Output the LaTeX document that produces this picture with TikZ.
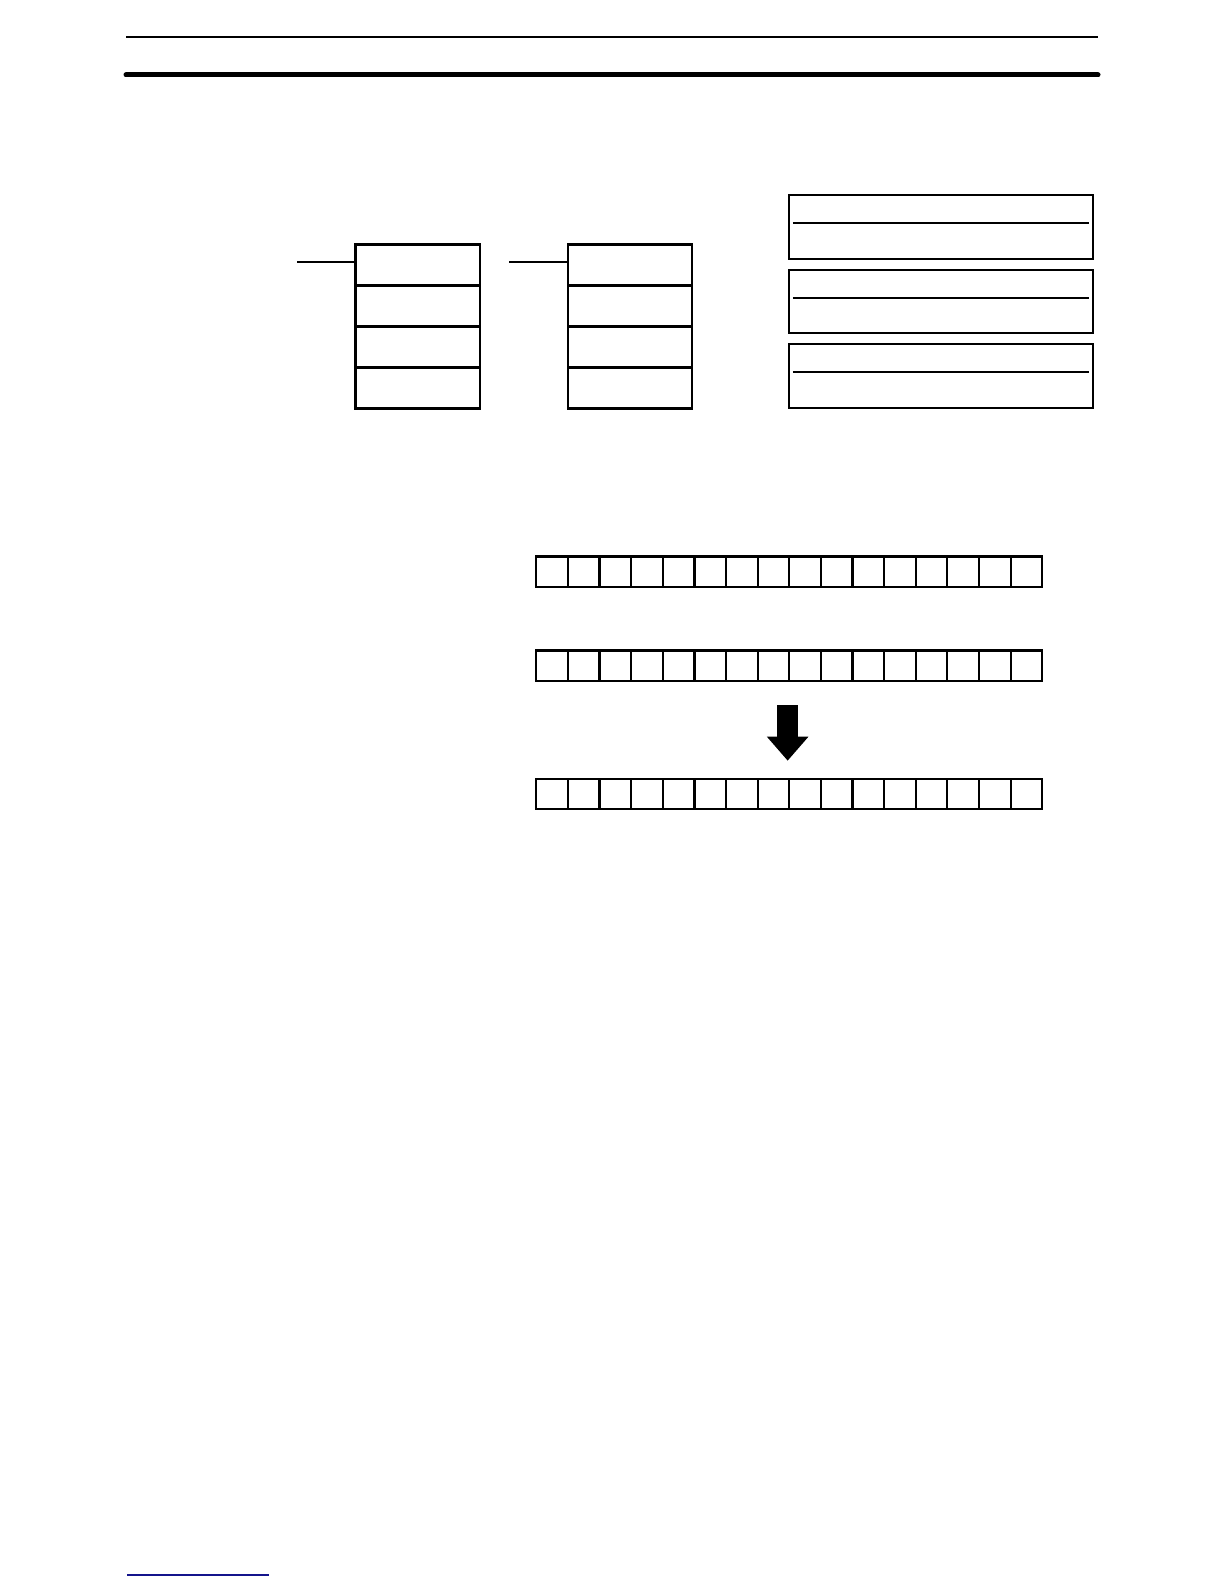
\documentclass[tikz,border=0pt]{standalone}
\usetikzlibrary{arrows.meta, positioning}
\definecolor{footblue}{RGB}{20,20,140}
\tikzset{
    ladderbox/.style={draw, rectangle, line width=1.1pt, minimum width=62.25pt, minimum height=20.5pt, inner sep=0pt, outer sep=0pt},
    instrbox/.style={draw, rectangle, line width=1.1pt, minimum width=152pt, minimum height=31.8pt, inner sep=0pt, outer sep=0pt},
    bitcell/.style={draw, rectangle, line width=1.1pt, minimum width=15.81pt, minimum height=15.3pt, inner sep=0pt, outer sep=0pt},
}
\begin{document}
\begin{tikzpicture}[x=1pt, y=1pt]
    \useasboundingbox (0,0) rectangle (612,-792);

    % Page rules
    \draw[line width=1pt] (63,-18.75) -- (549,-18.75);
    \draw[line width=2.5pt, line cap=round] (63,-37.5) -- (549,-37.5);
    \draw[footblue, line width=0.75pt] (63.5,-787.5) -- (134.5,-787.5);

    % Nodes
    \node[ladderbox, anchor=north west] (sym a1) at (177.75,-122.25) {};
    \node[ladderbox, anchor=north west] (sym b1) at (283.8,-122.25) {};
    \foreach \i [count=\j] in {2,...,4} {
        \node[ladderbox, below=0pt of sym a\j] (sym a\i) {};
        \node[ladderbox, below=0pt of sym b\j] (sym b\i) {};
    }
    \coordinate (rung a) at (148.5,-131);
    \coordinate (rung b) at (254.5,-131);

    \node[instrbox, anchor=north west] (op1) at (394.4,-97.5) {};
    \node[instrbox, below=5.5pt of op1] (op2) {};
    \node[instrbox, below=5.5pt of op2] (op3) {};

    \node[bitcell, anchor=north west] (src 1) at (268.15,-278.25) {};
    \node[bitcell, anchor=north west] (mask 1) at (268.15,-325.2) {};
    \node[bitcell, anchor=north west] (res 1) at (268.15,-389.35) {};
    \foreach \i [count=\j] in {2,...,16} {
        \node[bitcell, right=0pt of src \j] (src \i) {};
        \node[bitcell, right=0pt of mask \j] (mask \i) {};
        \node[bitcell, right=0pt of res \j] (res \i) {};
    }

    % Connections
    \draw[line width=1.1pt] (rung a) -- (rung a -| sym a1.west);
    \draw[line width=1.1pt] (rung b) -- (rung b -| sym b1.west);
    \foreach \k in {1,2,3}
        \draw[line width=1.1pt] ([xshift=2pt, yshift=-14pt]op\k.north west) -- ([xshift=-2pt, yshift=-14pt]op\k.north east);
    \draw[line width=10.5pt, -{Triangle[width=20pt, length=12pt]}] ([xshift=-0.8pt, yshift=-12pt]mask 8.south east) -- ([xshift=-0.8pt, yshift=9pt]res 8.north east);
\end{tikzpicture}
\end{document}
